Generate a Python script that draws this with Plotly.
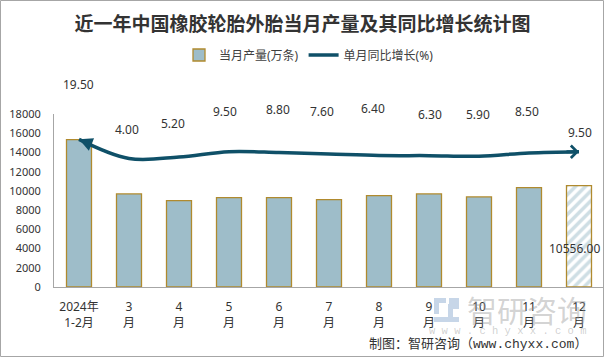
import plotly.graph_objects as go

# ---------------- data ----------------
categories = ["2024年<br>1-2月", "3<br>月", "4<br>月", "5<br>月", "6<br>月", "7<br>月",
              "8<br>月", "9<br>月", "10<br>月", "11<br>月", "12<br>月"]
output_wan = [15340, 9680, 8990, 9300, 9300, 9100, 9510, 9680, 9370, 10340, 10556]
growth_pct = [19.5, 4.0, 5.2, 9.5, 8.8, 7.6, 6.4, 6.3, 5.9, 8.5, 9.5]
y_ticks = [0, 2000, 4000, 6000, 8000, 10000, 12000, 14000, 16000, 18000]

title_text = "近一年中国橡胶轮胎外胎当月产量及其同比增长统计图"
bar_name = "当月产量(万条)"
line_name = "单月同比增长(%)"
source_text = "制图：智研咨询（www.chyxx.com）"

# ---------------- style ----------------
W, H = 604, 357
L, R, T, B = 54, 0, 114, 70
PW, PH = W - L - R, H - T - B
BAR_FILL = "#9EBDC9"
BAR_EDGE = "#B08A2E"
LINE_COL = "#0F5068"
TXT = "#333333"
FONT = "Noto Sans, Noto Sans CJK SC, sans-serif"

def px_x(px):
    return (px - L) / PW

def px_y(py):
    return (H - B - py) / PH

n = len(categories)
fig = go.Figure()

fig.add_trace(go.Bar(
    x=categories, y=output_wan, name=bar_name,
    marker=dict(
        color=BAR_FILL,
        line=dict(color=BAR_EDGE, width=1.3),
        pattern=dict(shape=[""] * (n - 1) + ["/"], fgcolor=BAR_FILL,
                     bgcolor="white", size=7, solidity=0.5),
    ),
    yaxis="y",
))

fig.add_trace(go.Scatter(
    x=categories, y=growth_pct, name=line_name, yaxis="y2",
    mode="lines", line=dict(color=LINE_COL, width=3.5, shape="spline", smoothing=1.0),
))

annotations = []
# line value labels (manually placed above the curve as in the source chart)
label_dy = [55, 29, 34, 40, 43, 43, 47, 41, 42, 41, 19]
label_dx = [-1, -2, -6, -4, -1, -7, -6, 1, -1, -2, 1]
for c, v, dy, dx in zip(categories, growth_pct, label_dy, label_dx):
    annotations.append(dict(
        x=c, y=v, xref="x", yref="y2", text=f"{v:.2f}", showarrow=False,
        yshift=dy, xshift=dx, font=dict(size=12, color=TXT, family=FONT),
    ))

# arrow heads at both ends of the growth line
annotations.append(dict(
    x=categories[-1], y=growth_pct[-1], xref="x", yref="y2", text="",
    showarrow=True, arrowhead=4, arrowsize=0.8, arrowwidth=3, arrowcolor=LINE_COL,
    ax=-14, ay=0, standoff=0,
))
annotations.append(dict(
    x=categories[0], y=growth_pct[0], xref="x", yref="y2", text="",
    showarrow=True, arrowhead=2, arrowsize=0.9, arrowwidth=3, arrowcolor=LINE_COL,
    ax=12, ay=5, standoff=0,
))

# bar value label for the last month
annotations.append(dict(
    x=categories[-1], y=output_wan[-1], xref="x", yref="y",
    text=f"{output_wan[-1]:.2f}", showarrow=False, yshift=-63, xshift=-5,
    font=dict(size=12, color=TXT, family=FONT),
))

# watermark
annotations.append(dict(
    x=px_x(527), y=px_y(309), xref="paper", yref="paper", text="智研咨询",
    xanchor="center", yanchor="middle",
    showarrow=False, font=dict(size=30, color="rgba(150,150,150,0.42)",
                               family="Noto Sans CJK SC"),
))
annotations.append(dict(
    x=px_x(508), y=px_y(331), xref="paper", yref="paper",
    text="w w w . c h y x x . c o m", xanchor="center", yanchor="middle",
    showarrow=False, font=dict(size=10.5, color="rgba(150,150,150,0.45)",
                               family="Liberation Mono"),
))
# source
annotations.append(dict(
    x=px_x(589), y=px_y(344), xref="paper", yref="paper", text=source_text,
    xanchor="right", yanchor="middle", showarrow=False,
    font=dict(size=13, color=TXT, family="Liberation Mono, Noto Sans CJK SC"),
))

shapes = [
    # outer border
    dict(type="rect", xref="paper", yref="paper",
         x0=px_x(0.5), x1=px_x(603.5), y0=px_y(356.5), y1=px_y(0.5),
         line=dict(color="#A6A6A6", width=1), fillcolor="rgba(0,0,0,0)", layer="below"),
    # watermark logo (approximate)
    dict(type="path", xref="paper", yref="paper",
         path=f"M {px_x(434)},{px_y(298)} L {px_x(446)},{px_y(298)} L {px_x(446)},{px_y(303)} "
              f"L {px_x(439)},{px_y(303)} L {px_x(439)},{px_y(314)} L {px_x(434)},{px_y(314)} Z",
         fillcolor="rgba(130,165,205,0.45)", line=dict(width=0)),
    dict(type="path", xref="paper", yref="paper",
         path=f"M {px_x(449)},{px_y(298)} L {px_x(459)},{px_y(298)} L {px_x(459)},{px_y(309)} "
              f"L {px_x(453)},{px_y(309)} L {px_x(453)},{px_y(317)} L {px_x(459)},{px_y(317)} "
              f"L {px_x(459)},{px_y(322)} L {px_x(434)},{px_y(322)} L {px_x(434)},{px_y(317)} "
              f"L {px_x(448)},{px_y(317)} L {px_x(448)},{px_y(304)} L {px_x(449)},{px_y(304)} Z",
         fillcolor="rgba(130,165,205,0.45)", line=dict(width=0)),
]

fig.update_layout(
    width=W, height=H,
    margin=dict(l=L, r=R, t=T, b=B, pad=0),
    paper_bgcolor="white", plot_bgcolor="white",
    font=dict(family=FONT, size=12, color=TXT),
    title=dict(text=f"<b>{title_text}</b>", x=302.5 / W, xref="container", xanchor="center",
               y=1 - 24.5 / H, yref="container", yanchor="middle",
               font=dict(size=19, color="#333333", family="Noto Sans CJK SC")),
    legend=dict(orientation="h", xref="container", yref="container",
                x=309 / W, xanchor="center", y=1 - 55 / H, yanchor="middle",
                font=dict(size=12, color="#404040"), traceorder="normal",
                bgcolor="rgba(0,0,0,0)"),
    bargap=0.5,
    xaxis=dict(showline=True, linecolor="#A6A6A6", linewidth=1, showgrid=False,
               ticks="", tickfont=dict(size=12, color=TXT), ticklabelstandoff=9,
               zeroline=False, fixedrange=True),
    yaxis=dict(range=[0, 18000], tickvals=y_ticks, tickformat="d", showline=True,
               linecolor="#A6A6A6", linewidth=1, showgrid=False, zeroline=False, ticks="",
               tickfont=dict(size=11, color=TXT), ticklabelstandoff=10),
    yaxis2=dict(range=[-100, 40], overlaying="y", visible=False),
    annotations=annotations,
    shapes=shapes,
    showlegend=True,
)

fig.write_html("out.html", config={"displayModeBar": False},
               post_script="document.body.style.margin='0px';")
